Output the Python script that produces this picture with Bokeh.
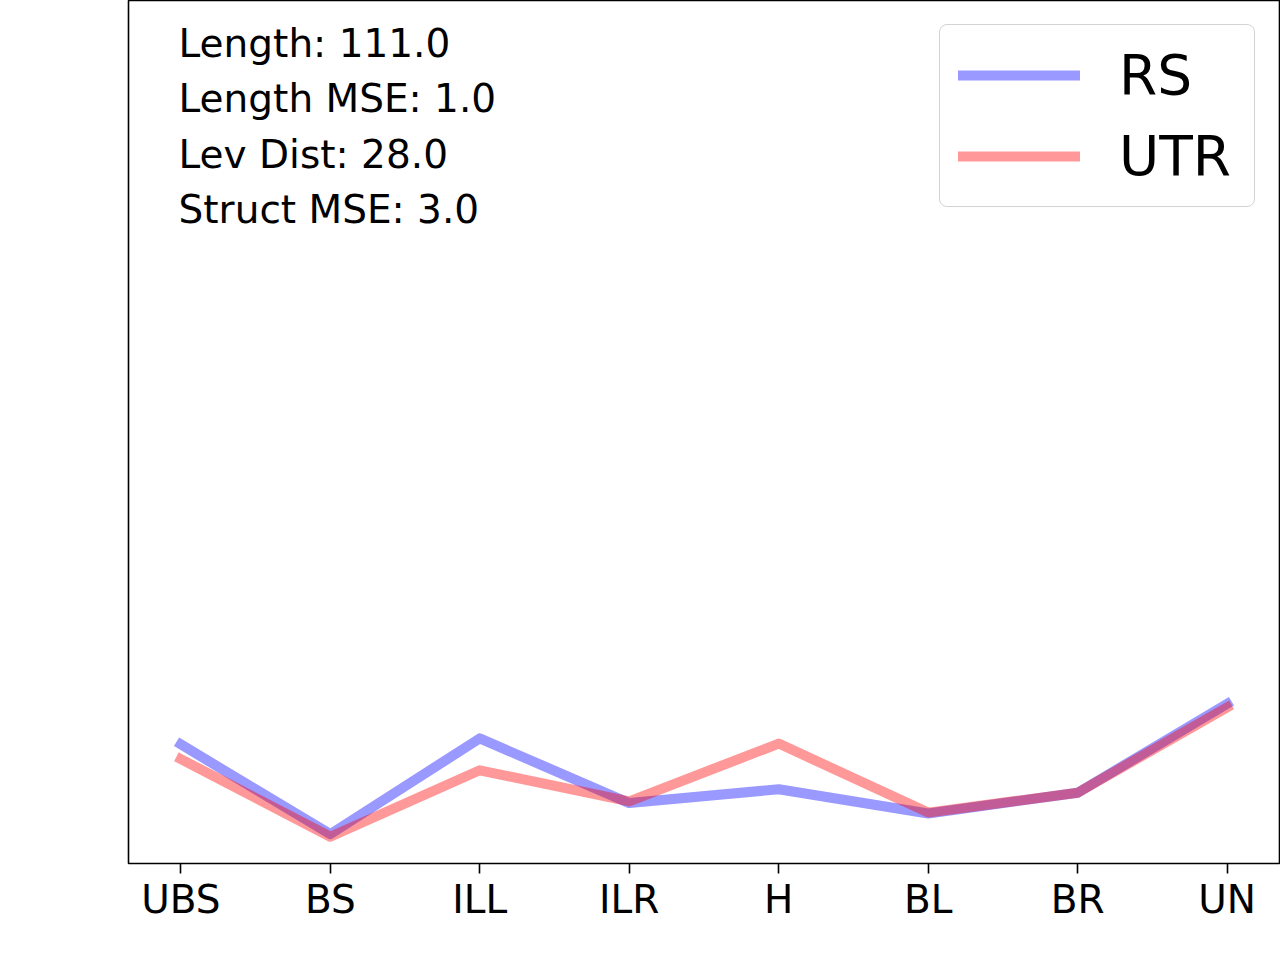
from bokeh.plotting import figure
from bokeh.models import Range1d, FixedTicker, Label, Legend, LegendItem
from bokeh.embed import file_html
from bokeh.resources import INLINE

# ---- data ----
categories = ["UBS", "BS", "ILL", "ILR", "H", "BL", "BR", "UN"]
rs_values = [0.138, 0.034, 0.145, 0.070, 0.086, 0.058, 0.082, 0.185]
utr_values = [0.121, 0.031, 0.108, 0.072, 0.139, 0.059, 0.082, 0.181]
series_names = ["RS", "UTR"]
stat_names = ["Length", "Length MSE", "Lev Dist", "Struct MSE"]
stat_values = [111.0, 1.0, 28.0, 3.0]

FONT = "DejaVu Sans"
xs = list(range(len(categories)))

p = figure(
    width=1280, height=940,
    x_range=Range1d(-0.35, len(categories) - 1 + 0.35),
    y_range=Range1d(0, 1),
    output_backend="svg", toolbar_location=None,
    y_axis_location=None,
    min_border_left=128, min_border_right=1,
    min_border_top=0, min_border_bottom=77,
    background_fill_color="white", border_fill_color="white",
)
p.outline_line_color = "black"
p.outline_line_width = 1.6
p.xgrid.visible = False
p.ygrid.visible = False

ax = p.xaxis[0]
ax.ticker = FixedTicker(ticks=xs)
ax.major_label_overrides = {i: c for i, c in zip(xs, categories)}
ax.axis_line_color = None
ax.major_tick_line_color = "black"
ax.major_tick_line_width = 1.6
ax.major_tick_out = 10
ax.major_tick_in = 0
ax.minor_tick_line_color = None
ax.major_label_text_font = FONT
ax.major_label_text_font_size = "39px"
ax.major_label_text_color = "black"
ax.major_label_standoff = 3

r_rs = p.line(xs, rs_values, line_color="blue", line_alpha=0.4, line_width=10,
              line_join="round", line_cap="square")
r_utr = p.line(xs, utr_values, line_color="red", line_alpha=0.4, line_width=10,
               line_join="round", line_cap="square")

# stats text
base_y = 0.950
step = 0.0640
for i, (n, v) in enumerate(zip(stat_names, stat_values)):
    p.add_layout(Label(
        x=-0.015, y=base_y - i * step, x_units="data", y_units="data",
        text=f"{n}: {v:.1f}", text_font=FONT, text_font_size="39px",
        text_color="black", text_align="left", text_baseline="alphabetic",
    ))

legend = Legend(
    items=[LegendItem(label=series_names[0], renderers=[r_rs]),
           LegendItem(label=series_names[1], renderers=[r_utr])],
    location=(811, 656),
    orientation="vertical",
    glyph_width=122, glyph_height=64,
    label_width=117, label_height=64,
    label_standoff=39,
    spacing=17, padding=18, margin=0,
    label_text_font=FONT, label_text_font_size="55px", label_text_color="black",
    border_line_color="#d3d3d3", border_line_width=1.6, border_line_alpha=1.0,
    background_fill_color="white", background_fill_alpha=0.8,
)
try:
    legend.border_radius = 8
except Exception:
    pass
p.add_layout(legend)

open("out.html", "w").write(file_html(p, INLINE))
